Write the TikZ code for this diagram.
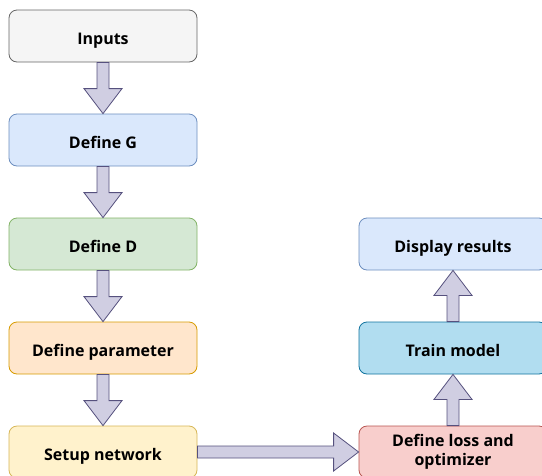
\documentclass[tikz,border=0pt]{standalone}
\usepackage{fontspec}
\setmainfont{Open Sans}
\usepackage{xcolor}
\usepackage{tikz}
\usetikzlibrary{calc}

\definecolor{grayfill}{HTML}{F5F5F5}\definecolor{grayline}{HTML}{666666}
\definecolor{bluefill}{HTML}{DAE8FC}\definecolor{blueline}{HTML}{6C8EBF}
\definecolor{greenfill}{HTML}{D5E8D4}\definecolor{greenline}{HTML}{82B366}
\definecolor{orangefill}{HTML}{FFE6CC}\definecolor{orangeline}{HTML}{D79B00}
\definecolor{yellowfill}{HTML}{FFF2CC}\definecolor{yellowline}{HTML}{D6B656}
\definecolor{redfill}{HTML}{F8CECC}\definecolor{redline}{HTML}{B85450}
\definecolor{cyanfill}{HTML}{B1DDF0}\definecolor{cyanline}{HTML}{10739E}
\definecolor{arrowfill}{HTML}{D0CEE2}\definecolor{arrowline}{HTML}{56517E}

\tikzset{
  stepbox/.style={draw, rounded corners=8pt, minimum width=188pt, minimum height=52pt,
    align=center, line width=0.8pt, font=\bfseries\fontsize{16}{19}\selectfont,
    text height=16pt, text depth=0pt},
  flow/.style={fill=arrowfill, draw=arrowline, line width=0.8pt, line join=miter}
}

% block arrow from #1 to #2
\newcommand{\blockarrow}[2]{%
  \coordinate (ba-h) at ($(#2)!25pt!(#1)$);
  \draw[flow] ($(#1)!6pt!90:(#2)$) -- ($(ba-h)!6pt!90:(#2)$) -- ($(ba-h)!19pt!90:(#2)$)
    -- (#2) -- ($(ba-h)!19pt!-90:(#2)$) -- ($(ba-h)!6pt!-90:(#2)$)
    -- ($(#1)!6pt!-90:(#2)$) -- cycle;}

\begin{document}
\begin{tikzpicture}[x=1pt,y=-1pt]
  \useasboundingbox (0,0) rectangle (542,475);

  \node[stepbox, fill=grayfill, draw=grayline] (inputs) at (103,36) {Inputs};
  \node[stepbox, fill=bluefill, draw=blueline] (defg) at (103,140) {Define G};
  \node[stepbox, fill=greenfill, draw=greenline] (defd) at (103,244) {Define D};
  \node[stepbox, fill=orangefill, draw=orangeline] (param) at (103,348) {Define parameter};
  \node[stepbox, fill=yellowfill, draw=yellowline] (setup) at (103,452) {Setup network};

  \node[stepbox, fill=redfill, draw=redline, text height={}, text depth={}] (loss) at (453,452) {Define loss and\\optimizer};
  \node[stepbox, fill=cyanfill, draw=cyanline] (train) at (453,348) {Train model};
  \node[stepbox, fill=bluefill, draw=blueline] (display) at (453,244) {Display results};

  \blockarrow{inputs.south}{defg.north}
  \blockarrow{defg.south}{defd.north}
  \blockarrow{defd.south}{param.north}
  \blockarrow{param.south}{setup.north}
  \blockarrow{setup.east}{loss.west}
  \blockarrow{loss.north}{train.south}
  \blockarrow{train.north}{display.south}
\end{tikzpicture}
\end{document}
